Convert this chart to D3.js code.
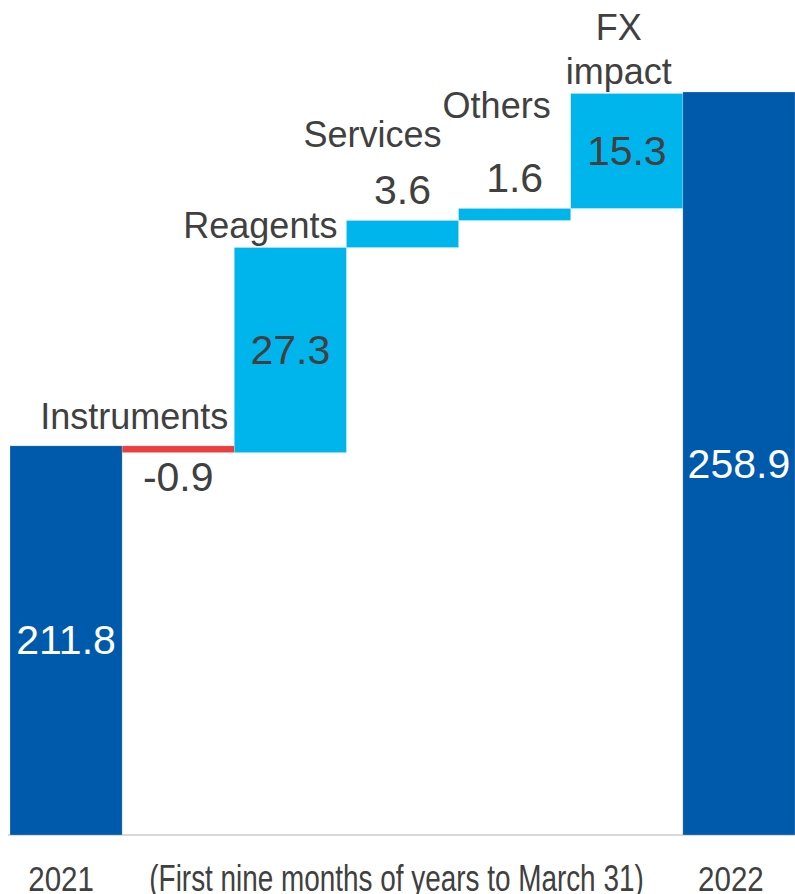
<!DOCTYPE html>
<html>
<head>
<meta charset="utf-8">
<script src="https://cdn.jsdelivr.net/npm/d3@7"></script>
<style>
  html, body { margin: 0; padding: 0; background: #fff; }
  svg { display: block; font-family: "Liberation Sans", Arial, sans-serif; }
</style>
</head>
<body>
<svg id="chart" width="795" height="894"></svg>
<script>
// ---- data ----
const categories = ["2021", "Instruments", "Reagents", "Services", "Others", "FX impact", "2022"];
const kinds      = ["total", "delta", "delta", "delta", "delta", "delta", "total"];
const values     = [211.8, -0.9, 27.3, 3.6, 1.6, 15.3, 258.9];
const valueLabels = ["211.8", "-0.9", "27.3", "3.6", "1.6", "15.3", "258.9"];
const categoryLines = [null, ["Instruments"], ["Reagents"], ["Services"], ["Others"], ["FX", "impact"], null];
const axisLabels = ["2021", "", "", "", "", "", "2022"];
const footnote = "(First nine months of years to March 31)";
const yDomain = [160, 258.9];

// ---- layout ----
const W = 795, H = 894;
const plotLeft = 10, plotRight = 795, plotBottom = 835, plotTop = 92;
const colTotal = "#005AAB", colUp = "#00B5EC", colDown = "#E8403F", textCol = "#404040";
// per-category label offsets (dx from band centre, gap above bar top)
const catDx  = [0, -44, -30, -30, -18, -8, 0];
const catGap = [0, 17, 10, 73, 90, 10, 0];

const svg = d3.select("#chart");
const x = d3.scaleBand().domain(categories).range([plotLeft, plotRight]).padding(0);
const y = d3.scaleLinear().domain(yDomain).range([plotBottom, plotTop]);

// compute waterfall spans
let running = 0;
const rows = categories.map((c, i) => {
  let start, end;
  if (kinds[i] === "total") { start = yDomain[0]; end = values[i]; running = values[i]; }
  else { start = running; end = running + values[i]; running = end; }
  return { c, i, kind: kinds[i], v: values[i], start, end,
           lo: Math.min(start, end), hi: Math.max(start, end) };
});

// baseline axis
const xAxis = d3.axisBottom(x).tickSize(0).tickFormat((d, i) => axisLabels[i]);
const gAx = svg.append("g").attr("transform", `translate(0,${plotBottom})`).call(xAxis);
gAx.select(".domain").attr("stroke", "#D9D9D9").attr("stroke-width", 2)
   .attr("d", `M${plotLeft - 2},0H${plotRight}`);
gAx.selectAll(".tick text")
   .attr("fill", textCol).attr("font-size", 36)
   .attr("font-family", "'Liberation Sans', Arial, sans-serif")
   .attr("y", 0).attr("dy", 0)
   .attr("transform", (d, i) => `translate(${i === 0 ? -5 : -8},56) scale(0.82,1)`);

// bars
svg.append("g").selectAll("rect").data(rows).join("rect")
  .attr("x", d => x(d.c))
  .attr("width", x.bandwidth())
  .attr("y", d => y(d.hi))
  .attr("height", d => y(d.lo) - y(d.hi))
  .attr("fill", d => d.kind === "total" ? colTotal : (d.v < 0 ? colDown : colUp))
  .attr("stroke", "#ffffff").attr("stroke-opacity", 0.35).attr("stroke-width", 0.6);

// value labels
const cx = d => x(d.c) + x.bandwidth() / 2;
svg.append("g").selectAll("text").data(rows).join("text")
  .attr("text-anchor", "middle")
  .attr("font-size", 41)
  .attr("fill", d => d.kind === "total" ? "#ffffff" : textCol)
  .attr("x", cx)
  .attr("y", d => {
    const hpx = y(d.lo) - y(d.hi);
    if (d.v < 0) return y(d.lo) + 38;
    if (hpx < 60) return y(d.hi) - 16;
    return (y(d.lo) + y(d.hi)) / 2 + 14;
  })
  .text(d => valueLabels[d.i]);

// category labels
const catRows = rows.filter(d => categoryLines[d.i]);
const ct = svg.append("g").selectAll("text").data(catRows).join("text")
  .attr("text-anchor", "middle")
  .attr("font-size", 36)
  .attr("fill", textCol)
  .attr("x", d => cx(d) + catDx[d.i])
  .attr("y", d => y(d.hi) - catGap[d.i]);
ct.each(function(d) {
  const lines = categoryLines[d.i];
  const t = d3.select(this);
  lines.forEach((ln, k) => {
    t.append("tspan")
      .attr("x", cx(d) + catDx[d.i])
      .attr("dy", k === 0 ? -(lines.length - 1) * 44 : 44)
      .text(ln);
  });
});

// footnote
svg.append("text")
  .attr("text-anchor", "middle")
  .attr("font-size", 36)
  .attr("fill", textCol)
  .attr("transform", `translate(396.5,${plotBottom + 56}) scale(0.775,1)`)
  .text(footnote);
</script>
</body>
</html>
